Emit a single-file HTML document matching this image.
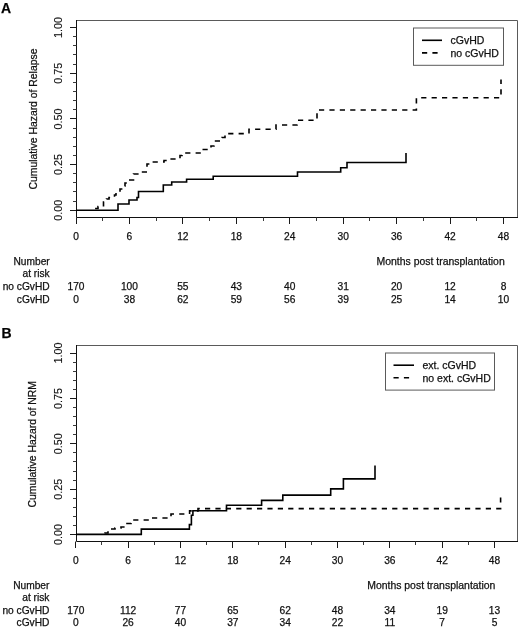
<!DOCTYPE html>
<html><head><meta charset="utf-8"><style>
html,body{margin:0;padding:0;background:#fff;width:520px;height:630px;overflow:hidden}
svg{display:block;will-change:transform}
text{font-family:"Liberation Sans", sans-serif;fill:#111;stroke:#111;stroke-width:0.25px}
</style></head><body>
<svg width="520" height="630" viewBox="0 0 520 630">
<rect width="520" height="630" fill="#fff"/>
<text x="1" y="13" font-size="14" font-weight="bold" style="fill:#000">A</text>
<text x="1.5" y="337.6" font-size="14" font-weight="bold" style="fill:#000">B</text>
<path d="M76.5,20.5H517.5V217.5" fill="none" stroke="#5a5a5a" stroke-width="1"/>
<path d="M76.5,20V217.5H518" fill="none" stroke="#111" stroke-width="1"/>
<line x1="70" x2="76.5" y1="210.50" y2="210.50" stroke="#1a1a1a" stroke-width="1"/>
<line x1="73" x2="76.5" y1="201.50" y2="201.50" stroke="#3a3a3a" stroke-width="1"/>
<line x1="73" x2="76.5" y1="191.50" y2="191.50" stroke="#3a3a3a" stroke-width="1"/>
<line x1="73" x2="76.5" y1="182.50" y2="182.50" stroke="#3a3a3a" stroke-width="1"/>
<line x1="73" x2="76.5" y1="173.50" y2="173.50" stroke="#3a3a3a" stroke-width="1"/>
<line x1="70" x2="76.5" y1="164.50" y2="164.50" stroke="#1a1a1a" stroke-width="1"/>
<line x1="73" x2="76.5" y1="155.50" y2="155.50" stroke="#3a3a3a" stroke-width="1"/>
<line x1="73" x2="76.5" y1="146.50" y2="146.50" stroke="#3a3a3a" stroke-width="1"/>
<line x1="73" x2="76.5" y1="137.50" y2="137.50" stroke="#3a3a3a" stroke-width="1"/>
<line x1="73" x2="76.5" y1="128.50" y2="128.50" stroke="#3a3a3a" stroke-width="1"/>
<line x1="70" x2="76.5" y1="118.50" y2="118.50" stroke="#1a1a1a" stroke-width="1"/>
<line x1="73" x2="76.5" y1="109.50" y2="109.50" stroke="#3a3a3a" stroke-width="1"/>
<line x1="73" x2="76.5" y1="100.50" y2="100.50" stroke="#3a3a3a" stroke-width="1"/>
<line x1="73" x2="76.5" y1="91.50" y2="91.50" stroke="#3a3a3a" stroke-width="1"/>
<line x1="73" x2="76.5" y1="82.50" y2="82.50" stroke="#3a3a3a" stroke-width="1"/>
<line x1="70" x2="76.5" y1="73.50" y2="73.50" stroke="#1a1a1a" stroke-width="1"/>
<line x1="73" x2="76.5" y1="64.50" y2="64.50" stroke="#3a3a3a" stroke-width="1"/>
<line x1="73" x2="76.5" y1="54.50" y2="54.50" stroke="#3a3a3a" stroke-width="1"/>
<line x1="73" x2="76.5" y1="45.50" y2="45.50" stroke="#3a3a3a" stroke-width="1"/>
<line x1="73" x2="76.5" y1="36.50" y2="36.50" stroke="#3a3a3a" stroke-width="1"/>
<line x1="70" x2="76.5" y1="27.50" y2="27.50" stroke="#1a1a1a" stroke-width="1"/>
<line x1="76.50" x2="76.50" y1="217.5" y2="224" stroke="#1a1a1a" stroke-width="1"/>
<line x1="102.50" x2="102.50" y1="217.5" y2="221" stroke="#3a3a3a" stroke-width="1"/>
<line x1="129.50" x2="129.50" y1="217.5" y2="224" stroke="#1a1a1a" stroke-width="1"/>
<line x1="156.50" x2="156.50" y1="217.5" y2="221" stroke="#3a3a3a" stroke-width="1"/>
<line x1="182.50" x2="182.50" y1="217.5" y2="224" stroke="#1a1a1a" stroke-width="1"/>
<line x1="209.50" x2="209.50" y1="217.5" y2="221" stroke="#3a3a3a" stroke-width="1"/>
<line x1="236.50" x2="236.50" y1="217.5" y2="224" stroke="#1a1a1a" stroke-width="1"/>
<line x1="263.50" x2="263.50" y1="217.5" y2="221" stroke="#3a3a3a" stroke-width="1"/>
<line x1="289.50" x2="289.50" y1="217.5" y2="224" stroke="#1a1a1a" stroke-width="1"/>
<line x1="316.50" x2="316.50" y1="217.5" y2="221" stroke="#3a3a3a" stroke-width="1"/>
<line x1="343.50" x2="343.50" y1="217.5" y2="224" stroke="#1a1a1a" stroke-width="1"/>
<line x1="369.50" x2="369.50" y1="217.5" y2="221" stroke="#3a3a3a" stroke-width="1"/>
<line x1="396.50" x2="396.50" y1="217.5" y2="224" stroke="#1a1a1a" stroke-width="1"/>
<line x1="423.50" x2="423.50" y1="217.5" y2="221" stroke="#3a3a3a" stroke-width="1"/>
<line x1="450.50" x2="450.50" y1="217.5" y2="224" stroke="#1a1a1a" stroke-width="1"/>
<line x1="476.50" x2="476.50" y1="217.5" y2="221" stroke="#3a3a3a" stroke-width="1"/>
<line x1="503.50" x2="503.50" y1="217.5" y2="224" stroke="#1a1a1a" stroke-width="1"/>
<text x="76.00" y="240" text-anchor="middle" font-size="10.2">0</text>
<text x="129.44" y="240" text-anchor="middle" font-size="10.2">6</text>
<text x="182.88" y="240" text-anchor="middle" font-size="10.2">12</text>
<text x="236.31" y="240" text-anchor="middle" font-size="10.2">18</text>
<text x="289.75" y="240" text-anchor="middle" font-size="10.2">24</text>
<text x="343.19" y="240" text-anchor="middle" font-size="10.2">30</text>
<text x="396.62" y="240" text-anchor="middle" font-size="10.2">36</text>
<text x="450.06" y="240" text-anchor="middle" font-size="10.2">42</text>
<text x="503.50" y="240" text-anchor="middle" font-size="10.2">48</text>
<text transform="translate(62,210.20) rotate(-90)" text-anchor="middle" font-size="10.8" style="stroke-width:0.1px">0.00</text>
<text transform="translate(62,164.55) rotate(-90)" text-anchor="middle" font-size="10.8" style="stroke-width:0.1px">0.25</text>
<text transform="translate(62,118.90) rotate(-90)" text-anchor="middle" font-size="10.8" style="stroke-width:0.1px">0.50</text>
<text transform="translate(62,73.25) rotate(-90)" text-anchor="middle" font-size="10.8" style="stroke-width:0.1px">0.75</text>
<text transform="translate(62,27.60) rotate(-90)" text-anchor="middle" font-size="10.8" style="stroke-width:0.1px">1.00</text>
<text transform="translate(36.8,119.00) rotate(-90)" text-anchor="middle" font-size="10.4">Cumulative Hazard of Relapse</text>
<rect x="413.5" y="28.0" width="90" height="37.3" fill="white" stroke="#5a5a5a" stroke-width="1"/>
<line x1="422" x2="442" y1="40.3" y2="40.3" stroke="#000" stroke-width="1.6"/>
<line x1="422" x2="442" y1="52.9" y2="52.9" stroke="#000" stroke-width="1.6" stroke-dasharray="5.2 5.2"/>
<text x="450.5" y="44.3" font-size="10.5">cGvHD</text>
<text x="450.5" y="56.9" font-size="10.5">no cGvHD</text>
<path d="M94,210.2V208.5H98V206.5H103.5V202H106.5V199H109V197.5H114.5V195H116V192H120V189H123V186H125V183H129V180H133.5V174H140V172H147V164H152V162H164V160.5H170V159H180V155.5H182V153H201.5V149.5H211V146H214V141H222V137.5H225V133.6H249V129.3H276V125H297V120.2H317V110H416.4V97.8H501V79.5" fill="none" stroke="#000" stroke-width="1.6" stroke-dasharray="5.2 5.2" stroke-dashoffset="18"/>
<path d="M76,210.2H118V204H129V200H137V197.5H138.5V191.5H163.3V185H171.7V182H186.6V179.2H213.2V176.2H297.5V172H340.7V167.8H347V162.5H406V153" fill="none" stroke="#000" stroke-width="1.6"/>
<text x="376.5" y="264.5" font-size="10.45">Months post transplantation</text>
<text x="49.7" y="264.5" text-anchor="end" font-size="10.2">Number</text>
<text x="49.7" y="277" text-anchor="end" font-size="10.2">at risk</text>
<text x="49.7" y="290" text-anchor="end" font-size="10.2">no cGvHD</text>
<text x="49.7" y="302.7" text-anchor="end" font-size="10.2">cGvHD</text>
<text x="76.00" y="290" text-anchor="middle" font-size="10.2">170</text>
<text x="129.44" y="290" text-anchor="middle" font-size="10.2">100</text>
<text x="182.88" y="290" text-anchor="middle" font-size="10.2">55</text>
<text x="236.31" y="290" text-anchor="middle" font-size="10.2">43</text>
<text x="289.75" y="290" text-anchor="middle" font-size="10.2">40</text>
<text x="343.19" y="290" text-anchor="middle" font-size="10.2">31</text>
<text x="396.62" y="290" text-anchor="middle" font-size="10.2">20</text>
<text x="450.06" y="290" text-anchor="middle" font-size="10.2">12</text>
<text x="503.50" y="290" text-anchor="middle" font-size="10.2">8</text>
<text x="76.00" y="302.7" text-anchor="middle" font-size="10.2">0</text>
<text x="129.44" y="302.7" text-anchor="middle" font-size="10.2">38</text>
<text x="182.88" y="302.7" text-anchor="middle" font-size="10.2">62</text>
<text x="236.31" y="302.7" text-anchor="middle" font-size="10.2">59</text>
<text x="289.75" y="302.7" text-anchor="middle" font-size="10.2">56</text>
<text x="343.19" y="302.7" text-anchor="middle" font-size="10.2">39</text>
<text x="396.62" y="302.7" text-anchor="middle" font-size="10.2">25</text>
<text x="450.06" y="302.7" text-anchor="middle" font-size="10.2">14</text>
<text x="503.50" y="302.7" text-anchor="middle" font-size="10.2">10</text>
<path d="M76.5,345.5H517.5V541.5" fill="none" stroke="#5a5a5a" stroke-width="1"/>
<path d="M76.5,345V541.5H518" fill="none" stroke="#111" stroke-width="1"/>
<line x1="70" x2="76.5" y1="534.50" y2="534.50" stroke="#1a1a1a" stroke-width="1"/>
<line x1="73" x2="76.5" y1="525.50" y2="525.50" stroke="#3a3a3a" stroke-width="1"/>
<line x1="73" x2="76.5" y1="516.50" y2="516.50" stroke="#3a3a3a" stroke-width="1"/>
<line x1="73" x2="76.5" y1="507.50" y2="507.50" stroke="#3a3a3a" stroke-width="1"/>
<line x1="73" x2="76.5" y1="498.50" y2="498.50" stroke="#3a3a3a" stroke-width="1"/>
<line x1="70" x2="76.5" y1="489.50" y2="489.50" stroke="#1a1a1a" stroke-width="1"/>
<line x1="73" x2="76.5" y1="480.50" y2="480.50" stroke="#3a3a3a" stroke-width="1"/>
<line x1="73" x2="76.5" y1="471.50" y2="471.50" stroke="#3a3a3a" stroke-width="1"/>
<line x1="73" x2="76.5" y1="461.50" y2="461.50" stroke="#3a3a3a" stroke-width="1"/>
<line x1="73" x2="76.5" y1="452.50" y2="452.50" stroke="#3a3a3a" stroke-width="1"/>
<line x1="70" x2="76.5" y1="443.50" y2="443.50" stroke="#1a1a1a" stroke-width="1"/>
<line x1="73" x2="76.5" y1="434.50" y2="434.50" stroke="#3a3a3a" stroke-width="1"/>
<line x1="73" x2="76.5" y1="425.50" y2="425.50" stroke="#3a3a3a" stroke-width="1"/>
<line x1="73" x2="76.5" y1="416.50" y2="416.50" stroke="#3a3a3a" stroke-width="1"/>
<line x1="73" x2="76.5" y1="407.50" y2="407.50" stroke="#3a3a3a" stroke-width="1"/>
<line x1="70" x2="76.5" y1="398.50" y2="398.50" stroke="#1a1a1a" stroke-width="1"/>
<line x1="73" x2="76.5" y1="389.50" y2="389.50" stroke="#3a3a3a" stroke-width="1"/>
<line x1="73" x2="76.5" y1="380.50" y2="380.50" stroke="#3a3a3a" stroke-width="1"/>
<line x1="73" x2="76.5" y1="371.50" y2="371.50" stroke="#3a3a3a" stroke-width="1"/>
<line x1="73" x2="76.5" y1="362.50" y2="362.50" stroke="#3a3a3a" stroke-width="1"/>
<line x1="70" x2="76.5" y1="353.50" y2="353.50" stroke="#1a1a1a" stroke-width="1"/>
<line x1="75.50" x2="75.50" y1="541.5" y2="548" stroke="#1a1a1a" stroke-width="1"/>
<line x1="101.50" x2="101.50" y1="541.5" y2="545" stroke="#3a3a3a" stroke-width="1"/>
<line x1="128.50" x2="128.50" y1="541.5" y2="548" stroke="#1a1a1a" stroke-width="1"/>
<line x1="154.50" x2="154.50" y1="541.5" y2="545" stroke="#3a3a3a" stroke-width="1"/>
<line x1="180.50" x2="180.50" y1="541.5" y2="548" stroke="#1a1a1a" stroke-width="1"/>
<line x1="206.50" x2="206.50" y1="541.5" y2="545" stroke="#3a3a3a" stroke-width="1"/>
<line x1="232.50" x2="232.50" y1="541.5" y2="548" stroke="#1a1a1a" stroke-width="1"/>
<line x1="258.50" x2="258.50" y1="541.5" y2="545" stroke="#3a3a3a" stroke-width="1"/>
<line x1="285.50" x2="285.50" y1="541.5" y2="548" stroke="#1a1a1a" stroke-width="1"/>
<line x1="311.50" x2="311.50" y1="541.5" y2="545" stroke="#3a3a3a" stroke-width="1"/>
<line x1="337.50" x2="337.50" y1="541.5" y2="548" stroke="#1a1a1a" stroke-width="1"/>
<line x1="363.50" x2="363.50" y1="541.5" y2="545" stroke="#3a3a3a" stroke-width="1"/>
<line x1="389.50" x2="389.50" y1="541.5" y2="548" stroke="#1a1a1a" stroke-width="1"/>
<line x1="415.50" x2="415.50" y1="541.5" y2="545" stroke="#3a3a3a" stroke-width="1"/>
<line x1="442.50" x2="442.50" y1="541.5" y2="548" stroke="#1a1a1a" stroke-width="1"/>
<line x1="468.50" x2="468.50" y1="541.5" y2="545" stroke="#3a3a3a" stroke-width="1"/>
<line x1="494.50" x2="494.50" y1="541.5" y2="548" stroke="#1a1a1a" stroke-width="1"/>
<text x="75.80" y="564.3" text-anchor="middle" font-size="10.2">0</text>
<text x="128.14" y="564.3" text-anchor="middle" font-size="10.2">6</text>
<text x="180.47" y="564.3" text-anchor="middle" font-size="10.2">12</text>
<text x="232.81" y="564.3" text-anchor="middle" font-size="10.2">18</text>
<text x="285.15" y="564.3" text-anchor="middle" font-size="10.2">24</text>
<text x="337.49" y="564.3" text-anchor="middle" font-size="10.2">30</text>
<text x="389.82" y="564.3" text-anchor="middle" font-size="10.2">36</text>
<text x="442.16" y="564.3" text-anchor="middle" font-size="10.2">42</text>
<text x="494.50" y="564.3" text-anchor="middle" font-size="10.2">48</text>
<text transform="translate(62,534.50) rotate(-90)" text-anchor="middle" font-size="10.8" style="stroke-width:0.1px">0.00</text>
<text transform="translate(62,489.15) rotate(-90)" text-anchor="middle" font-size="10.8" style="stroke-width:0.1px">0.25</text>
<text transform="translate(62,443.80) rotate(-90)" text-anchor="middle" font-size="10.8" style="stroke-width:0.1px">0.50</text>
<text transform="translate(62,398.45) rotate(-90)" text-anchor="middle" font-size="10.8" style="stroke-width:0.1px">0.75</text>
<text transform="translate(62,353.10) rotate(-90)" text-anchor="middle" font-size="10.8" style="stroke-width:0.1px">1.00</text>
<text transform="translate(36.3,444.20) rotate(-90)" text-anchor="middle" font-size="10.4">Cumulative Hazard of NRM</text>
<rect x="385.5" y="353.0" width="109" height="37.10000000000002" fill="white" stroke="#5a5a5a" stroke-width="1"/>
<line x1="393.5" x2="414" y1="365.2" y2="365.2" stroke="#000" stroke-width="1.6"/>
<line x1="393.5" x2="414" y1="377.7" y2="377.7" stroke="#000" stroke-width="1.6" stroke-dasharray="5.2 5.2"/>
<text x="422.5" y="369.2" font-size="10.5">ext. cGvHD</text>
<text x="422.5" y="381.7" font-size="10.5">no ext. cGvHD</text>
<path d="M105,534.4V533H108V531H111V529H115V528H121V527H125V525H127V523.5H131V521H133V520H150V518H171V514H189.6V510.9H198V508.6H500.6V497" fill="none" stroke="#000" stroke-width="1.6" stroke-dasharray="5.2 5.2" stroke-dashoffset="30.2"/>
<path d="M76,534.4H141.3V529.1H189.4V524.6H191.4V515.2H192.9V510.7H226.5V505.3H261.6V500.4H282.8V495.1H330.7V488.9H343.4V478.9H375V465.6" fill="none" stroke="#000" stroke-width="1.6"/>
<text x="367.2" y="588.8" font-size="10.45">Months post transplantation</text>
<text x="49.4" y="588.6" text-anchor="end" font-size="10.2">Number</text>
<text x="49.4" y="600.6" text-anchor="end" font-size="10.2">at risk</text>
<text x="49.4" y="613.7" text-anchor="end" font-size="10.2">no cGvHD</text>
<text x="49.4" y="626.3" text-anchor="end" font-size="10.2">cGvHD</text>
<text x="75.80" y="613.7" text-anchor="middle" font-size="10.2">170</text>
<text x="128.14" y="613.7" text-anchor="middle" font-size="10.2">112</text>
<text x="180.47" y="613.7" text-anchor="middle" font-size="10.2">77</text>
<text x="232.81" y="613.7" text-anchor="middle" font-size="10.2">65</text>
<text x="285.15" y="613.7" text-anchor="middle" font-size="10.2">62</text>
<text x="337.49" y="613.7" text-anchor="middle" font-size="10.2">48</text>
<text x="389.82" y="613.7" text-anchor="middle" font-size="10.2">34</text>
<text x="442.16" y="613.7" text-anchor="middle" font-size="10.2">19</text>
<text x="494.50" y="613.7" text-anchor="middle" font-size="10.2">13</text>
<text x="75.80" y="626.3" text-anchor="middle" font-size="10.2">0</text>
<text x="128.14" y="626.3" text-anchor="middle" font-size="10.2">26</text>
<text x="180.47" y="626.3" text-anchor="middle" font-size="10.2">40</text>
<text x="232.81" y="626.3" text-anchor="middle" font-size="10.2">37</text>
<text x="285.15" y="626.3" text-anchor="middle" font-size="10.2">34</text>
<text x="337.49" y="626.3" text-anchor="middle" font-size="10.2">22</text>
<text x="389.82" y="626.3" text-anchor="middle" font-size="10.2">11</text>
<text x="442.16" y="626.3" text-anchor="middle" font-size="10.2">7</text>
<text x="494.50" y="626.3" text-anchor="middle" font-size="10.2">5</text>
</svg>
</body></html>
